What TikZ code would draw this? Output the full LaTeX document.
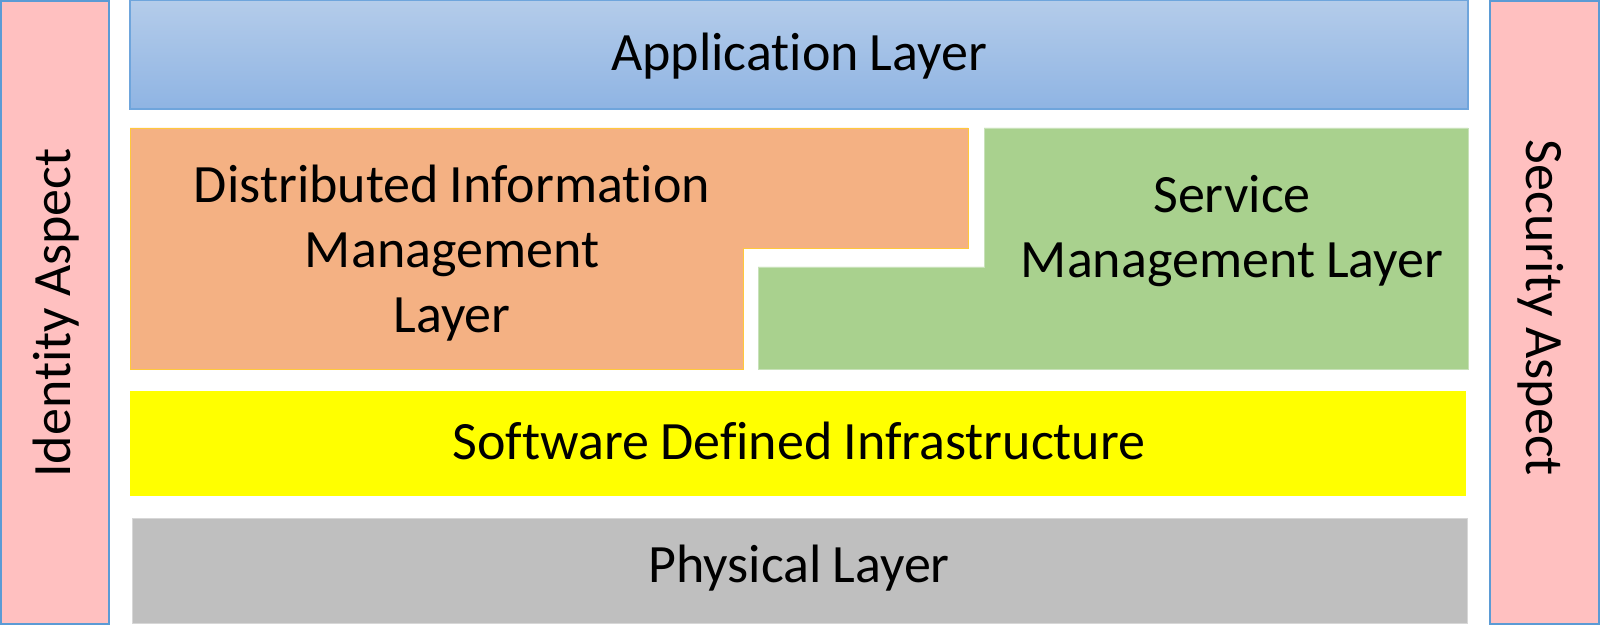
\documentclass[tikz,border=0pt]{standalone}
\usepackage{fontspec}
\setmainfont[Ligatures={NoCommon},WordSpace=0.9]{Carlito}
\definecolor{pinkfill}{RGB}{255,192,192}
\definecolor{aspectborder}{RGB}{91,155,213}
\definecolor{apptop}{RGB}{180,204,234}
\definecolor{appbot}{RGB}{143,180,227}
\definecolor{appborder}{RGB}{111,165,220}
\definecolor{orangefill}{RGB}{244,177,131}
\definecolor{orangeborder}{RGB}{255,200,60}
\definecolor{greenfill}{RGB}{169,209,142}
\definecolor{greenborder}{RGB}{200,225,185}
\definecolor{yellowfill}{RGB}{255,255,0}
\definecolor{grayfill}{RGB}{191,191,191}
\definecolor{grayborder}{RGB}{215,215,215}
\tikzset{
  lbl/.style={font=\fontsize{54}{65}\selectfont, text=black, inner sep=0pt, align=center},
}
\begin{document}
\begin{tikzpicture}[x=1pt,y=-1pt]
\useasboundingbox (0,0) rectangle (1600,636);
\fill[white] (0,0) rectangle (1600,636);
% aspects
\draw[fill=pinkfill, draw=aspectborder, line width=1.5pt] (1,1) rectangle (109,624);
\draw[fill=pinkfill, draw=aspectborder, line width=1.5pt] (1490,1) rectangle (1599,624);
% application layer
\shade[top color=apptop, bottom color=appbot] (130,0) rectangle (1468,109);
\draw[draw=appborder, line width=1.5pt] (130,0.7) rectangle (1468,109);
% distributed info
\draw[fill=orangefill, draw=orangeborder, line width=0.8pt] (130,128) -- (968,128) -- (968,248) -- (743,248) -- (743,369) -- (130,369) -- cycle;
% service management
\draw[fill=greenfill, draw=greenborder, line width=0.8pt] (984,128) -- (1468,128) -- (1468,369) -- (758,369) -- (758,267) -- (984,267) -- cycle;
% SDI
\fill[yellowfill] (130,391) rectangle (1466,496);
% physical
\draw[fill=grayfill, draw=grayborder, line width=1pt] (132,518) rectangle (1467,623);
% labels
\node[lbl] (app) at (799,56) {Application Layer};
\node[lbl] (dim) at (452,253) {Distributed Information\\Management\\Layer};
\node[lbl] (sm) at (1232,231) {Service\\Management Layer};
\node[lbl] (sdi) at (799,441) {Software Defined Infrastructure};
\node[lbl] (phy) at (799,568) {Physical Layer};
\node[lbl, rotate=90] (id) at (56,313) {Identity Aspect};
\node[lbl, rotate=-90] (sec) at (1541,308) {Security Aspect};
\end{tikzpicture}
\end{document}
